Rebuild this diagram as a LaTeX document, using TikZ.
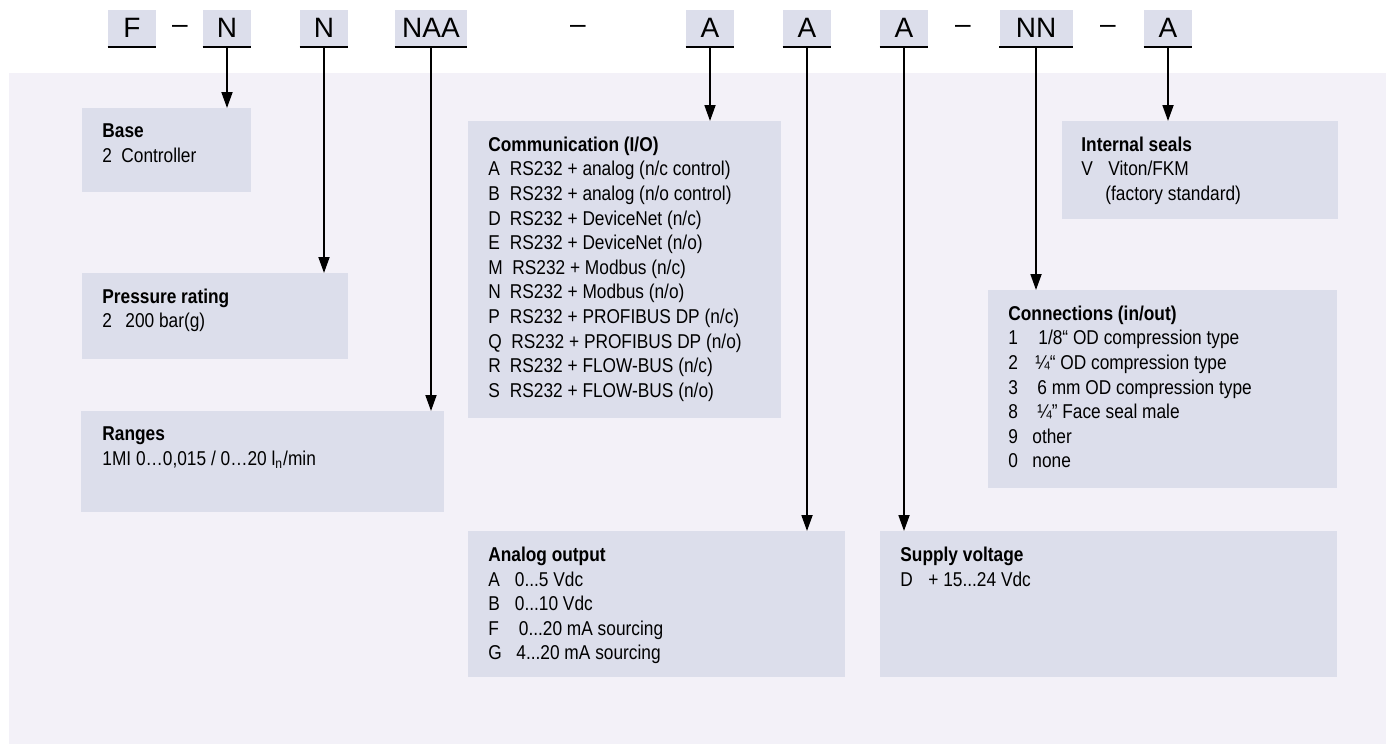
\documentclass[tikz,border=0pt]{standalone}
\usepackage{fontspec}
\setmainfont{Liberation Sans}
\newfontfamily\narrowfont[FakeStretch=0.865]{Liberation Sans}
\usepackage{tikz}
\usetikzlibrary{positioning, arrows.meta}
\definecolor{boxgray}{RGB}{220,222,235}
\definecolor{panelbg}{RGB}{243,241,248}
\newcommand{\optkey}[2][10.75pt]{\makebox[#1][l]{#2}}

\tikzset{
  codebox/.style={rectangle, fill=boxgray, minimum width=24pt, minimum height=18.5pt, inner sep=0pt, anchor=south, font=\fontsize{14}{16}\selectfont},
  codeline/.style={line width=1.3pt},
  codedash/.style={anchor=base, inner sep=0pt, font=\fontsize{14}{16}\selectfont},
  infobox/.style={rectangle, fill=boxgray, anchor=north west, inner sep=0pt},
  infotext/.style={anchor=north west, inner sep=0pt, align=left, font=\narrowfont\fontsize{10}{12.3}\selectfont},
  pointer/.style={line width=0.9pt, -{Triangle[length=8pt, width=5.5pt]}}
}

\begin{document}
\begin{tikzpicture}[x=0.5pt, y=-0.5pt]
\useasboundingbox (0,0) rectangle (1391,744);
% Background panel
\fill[panelbg] (9,73) rectangle (1386,744);

% Order code
\node[codebox] (cF) at (132,47) {F};
\node[codedash] (d1) at (180,33) {–};
\node[codebox] (cN1) at (227,47) {N};
\node[codebox] (cN2) at (324,47) {N};
\node[codebox, minimum width=36pt] (cNAA) at (431,47) {NAA};
\node[codedash] (d2) at (578,33) {–};
\node[codebox] (cA1) at (710,47) {A};
\node[codebox] (cA2) at (807,47) {A};
\node[codebox] (cA3) at (904,47) {A};
\node[codedash] (d3) at (963,33) {–};
\node[codebox, minimum width=36.5pt] (cNN) at (1036,47) {NN};
\node[codedash] (d4) at (1108,33) {–};
\node[codebox] (cA4) at (1168,47) {A};

% Underlines
\foreach \c in {cF, cN1, cN2, cNAA, cA1, cA2, cA3, cNN, cA4}
  \draw[codeline] (\c.south west) -- (\c.south east);

% Base
\node[infobox, minimum width=84.5pt, minimum height=42pt] (base) at (82,108) {};
\node[infotext] (basetxt) at ([shift={(20,15.5)}]base.north west) {\textbf{Base}\\\optkey[9.5pt]{2}Controller};

% Pressure rating
\node[infobox, minimum width=133pt, minimum height=43pt] (pressure) at (82,273) {};
\node[infotext] (pressuretxt) at ([shift={(20,15.5)}]pressure.north west) {\textbf{Pressure rating}\\\optkey[11.5pt]{2}200 bar(g)};

% Ranges
\node[infobox, minimum width=181.5pt, minimum height=50.5pt] (ranges) at (81,411) {};
\node[infotext] (rangestxt) at ([shift={(21,15.5)}]ranges.north west) {\textbf{Ranges}\\1MI 0…0,015 / 0…20 l\textsubscript{n}/min};

% Communication
\node[infobox, minimum width=156.5pt, minimum height=148.5pt] (comm) at (468,121) {};
\node[infotext] (commtxt) at ([shift={(20,15.5)}]comm.north west) {\textbf{Communication (I/O)}\\
\optkey{A}RS232 + analog (n/c control)\\
\optkey{B}RS232 + analog (n/o control)\\
\optkey{D}RS232 + DeviceNet (n/c)\\
\optkey{E}RS232 + DeviceNet (n/o)\\
\optkey[12pt]{M}RS232 + Modbus (n/c)\\
\optkey{N}RS232 + Modbus (n/o)\\
\optkey{P}RS232 + PROFIBUS DP (n/c)\\
\optkey[11.5pt]{Q}RS232 + PROFIBUS DP (n/o)\\
\optkey{R}RS232 + FLOW-BUS (n/c)\\
\optkey{S}RS232 + FLOW-BUS (n/o)};

% Analog output
\node[infobox, minimum width=188.5pt, minimum height=73pt] (analog) at (468,531) {};
\node[infotext] (analogtxt) at ([shift={(20,15.5)}]analog.north west) {\textbf{Analog output}\\
\optkey[13.25pt]{A}0...5 Vdc\\
\optkey[13.25pt]{B}0...10 Vdc\\
\optkey[15.25pt]{F}0...20 mA sourcing\\
\optkey[14pt]{G}4...20 mA sourcing};

% Supply voltage
\node[infobox, minimum width=228.5pt, minimum height=73pt] (supply) at (880,531) {};
\node[infotext] (supplytxt) at ([shift={(20,15.5)}]supply.north west) {\textbf{Supply voltage}\\\optkey[14pt]{D}+ 15...24 Vdc};

% Connections
\node[infobox, minimum width=174.5pt, minimum height=99pt] (conn) at (988,290) {};
\node[infotext] (conntxt) at ([shift={(20,15.5)}]conn.north west) {\textbf{Connections (in/out)}\\
\optkey[15pt]{1}1/8“ OD compression type\\
\optkey[13.5pt]{2}¼“ OD compression type\\
\optkey[14.5pt]{3}6 mm OD compression type\\
\optkey[14.5pt]{8}¼” Face seal male\\
\optkey[12pt]{9}other\\
\optkey[12pt]{0}none};

% Internal seals
\node[infobox, minimum width=138pt, minimum height=49pt] (seals) at (1062,121) {};
\node[infotext] (sealstxt) at ([shift={(19,15.5)}]seals.north west) {\textbf{Internal seals}\\
\optkey[13.5pt]{V}Viton/FKM\\
\hspace*{12pt}(factory standard)};

% Pointers
\draw[pointer] (cN1.south) -- (cN1.south |- base.north);
\draw[pointer] (cN2.south) -- (cN2.south |- pressure.north);
\draw[pointer] (cNAA.south) -- (cNAA.south |- ranges.north);
\draw[pointer] (cA1.south) -- (cA1.south |- comm.north);
\draw[pointer] (cA2.south) -- (cA2.south |- analog.north);
\draw[pointer] (cA3.south) -- (cA3.south |- supply.north);
\draw[pointer] (cNN.south) -- (cNN.south |- conn.north);
\draw[pointer] (cA4.south) -- (cA4.south |- seals.north);
\end{tikzpicture}
\end{document}
